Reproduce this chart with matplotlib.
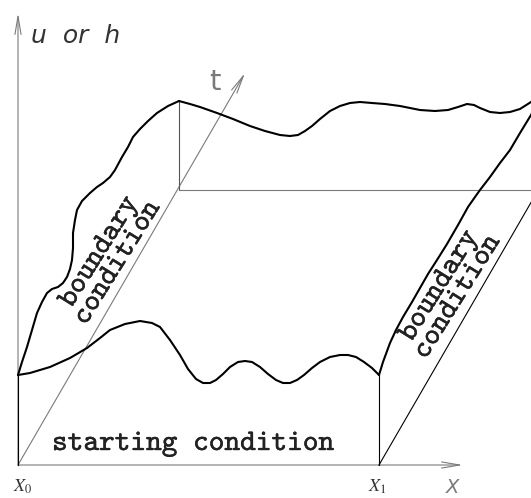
import matplotlib.pyplot as plt
import matplotlib.patheffects as pe
from matplotlib.patches import FancyArrowPatch

plt.rcParams['mathtext.fontset'] = 'stix'

# everything is in picture pixels: x to the right, y downwards
x0, x1 = 18, 379          # front edge, X0 and X1
y_base = 465              # x axis
y_top_axis = 13           # tip of the u/h axis
x_axis_end = 463
t_tip = (245, 73)
back_x0, back_line_y = 179, 190

# u(x, 0): starting condition
front_x = [18, 30, 50, 70, 87, 100, 110, 125, 140, 152, 160, 170, 180, 188, 196, 203, 210,
           216, 223, 230, 238, 245, 252, 260, 268, 276, 283, 290, 297, 304, 312, 320,
           330, 340, 348, 356, 364, 372, 379]
front_y = [375, 373, 367, 358, 348, 338, 330, 324, 321, 323, 327, 340, 355, 369, 379, 383, 383,
           380, 374, 367, 362, 361, 362, 367, 374, 380, 383, 383, 380, 375, 368, 362,
           357, 355, 355, 357, 362, 368, 375]

# u(x, T): far edge
back_x = [179, 190, 200, 217, 233, 250, 265, 280, 290, 298, 305, 312, 320, 330, 340, 350,
          360, 372, 385, 400, 420, 435, 448, 458, 467, 474, 480, 490, 500, 510, 520, 531, 540]
back_y = [101, 104, 107, 113, 119, 126, 131, 135, 136, 135, 131, 126, 119, 111, 106, 103,
          102, 103, 104, 106, 110, 111, 110, 107, 104, 105, 108, 112, 113, 112, 109, 102, 98]

# u(X0, t): left boundary
left_x = [18, 22, 27, 32, 37, 42, 47, 52, 58, 63, 67, 70, 72, 73, 73, 75, 77, 82, 90, 97,
          103, 110, 115, 122, 128, 133, 140, 148, 157, 168, 179]
left_y = [375, 362, 347, 330, 313, 302, 293, 289, 287, 283, 277, 269, 260, 248, 233, 220, 210,
          201, 193, 187, 183, 177, 170, 157, 147, 137, 129, 121, 113, 106, 101]

# u(X1, t): right boundary
right_x = [379, 383, 390, 396, 403, 412, 420, 428, 437, 447, 458, 468, 475, 480, 490, 500,
           510, 520, 531, 540]
right_y = [375, 362, 343, 330, 317, 302, 288, 274, 260, 244, 225, 207, 197, 190, 177, 163,
           150, 133, 115, 98]

fig = plt.figure(figsize=(5.31, 4.98), dpi=100)
ax = fig.add_axes([0, 0, 1, 1])
ax.set_xlim(0, 531)
ax.set_ylim(498, 0)
ax.axis('off')

grey = '#7a7a7a'
arrow_style = '->,head_length=1.3,head_width=0.22'

# axes with long open arrow heads
for start, end in [((x0, y_base), (x0, y_top_axis)),
                   ((x0, y_base), (x_axis_end, y_base)),
                   ((x0, y_base), t_tip)]:
    ax.add_patch(FancyArrowPatch(start, end, arrowstyle=arrow_style, mutation_scale=10,
                                 color=grey, lw=0.8, shrinkA=0, shrinkB=0))

# thin construction lines
ax.plot([x0, x0], [front_y[0], y_base], color='black', lw=0.8)
ax.plot([x1, x1], [front_y[-1], y_base], color='black', lw=0.8)
ax.plot([back_x0, back_x0], [back_y[0], back_line_y], color='#555555', lw=0.8)
ax.plot([back_x0, 531], [back_line_y, back_line_y], color=grey, lw=0.8)
ax.plot([x1, x1 + (t_tip[0] - x0) * 1.2], [y_base, y_base + (t_tip[1] - y_base) * 1.2],
        color='black', lw=0.8)

# the surface edges
for xs, ys in [(front_x, front_y), (back_x, back_y), (left_x, left_y), (right_x, right_y)]:
    ax.plot(xs, ys, color='black', lw=1.5, solid_joinstyle='round', solid_capstyle='round')

# typewriter font with slab serifs, shipped with matplotlib; a thin stroke makes it heavier
mono = 'cmtt10'
heavy = [pe.withStroke(linewidth=0.3, foreground='#222222')]
ax.text(193, 450, 'starting condition', family=mono, fontsize=21.5, ha='center',
        va='baseline', color='#222222', path_effects=heavy)
ax.text(109, 258, 'boundary\ncondition', family=mono, fontsize=21.5, ha='center', va='center',
        rotation=58, rotation_mode='anchor', linespacing=0.8, color='#222222',
        path_effects=heavy)
ax.text(449, 292, 'boundary\ncondition', family=mono, fontsize=21.5, ha='center', va='center',
        rotation=58, rotation_mode='anchor', linespacing=0.8, color='#222222',
        path_effects=heavy)

ax.text(31, 43, 'u  or  h', fontsize=18, style='italic', va='baseline', color='#333333')
ax.text(209, 90, 't', fontsize=21, va='baseline', color=grey)
ax.text(446, 478, 'X', fontsize=14, style='italic', va='top', color=grey)
ax.text(13, 478, r'$X_0$', fontsize=13, va='top', color='#333333')
ax.text(368, 478, r'$X_1$', fontsize=13, va='top', color='#333333')

fig.savefig('out.png', dpi=100)
